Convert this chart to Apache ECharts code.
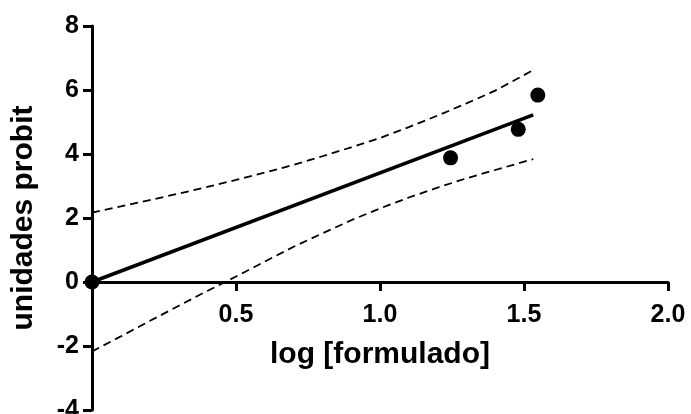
<!DOCTYPE html>
<html>
<head>
<meta charset="utf-8">
<script src="https://cdn.jsdelivr.net/npm/echarts@6/dist/echarts.min.js"></script>
<style>
html,body{margin:0;padding:0;background:#fff;}
#c{width:691px;height:414px;}
</style>
</head>
<body>
<div id="c"></div>
<script>
// observed points
var pointX = [0, 1.245, 1.48, 1.548];
var pointY = [0, 3.88, 4.77, 5.84];
// regression line end points
var fitX = [0, 1.532];
var fitY = [0, 5.22];
// confidence band
var bandX = [0, 0.1, 0.2, 0.3, 0.4, 0.5, 0.6, 0.7, 0.8, 0.9, 1.0, 1.1, 1.2, 1.3, 1.4, 1.532];
var upperY = [2.17, 2.36, 2.56, 2.76, 2.97, 3.19, 3.42, 3.66, 3.93, 4.21, 4.50, 4.84, 5.20, 5.58, 5.98, 6.62];
var lowerY = [-2.17, -1.70, -1.22, -0.75, -0.28, 0.17, 0.64, 1.10, 1.52, 1.93, 2.30, 2.64, 2.95, 3.24, 3.50, 3.84];
var xTicks = [0.5, 1.0, 1.5, 2.0];
var yMin = -4, yMax = 8;

function pairs(xs, ys){ return xs.map(function(x,i){ return [x, ys[i]]; }); }

var chart = echarts.init(document.getElementById('c'));
var font = 'Liberation Sans, Arial, sans-serif';
var gridTop = 26, gridBottom = 4, H = 414;
var plotH = H - gridTop - gridBottom;
var zeroOffset = -plotH * (0 - yMin) / (yMax - yMin);
chart.setOption({
  animation: false,
  grid: {left: 92, right: 23, top: gridTop, bottom: gridBottom, containLabel: false, outerBoundsMode: 'none'},
  xAxis: {
    type: 'value', min: 0, max: 2, interval: 0.5, position: 'bottom', offset: zeroOffset,
    axisLine: {onZero: false, lineStyle: {color: '#000', width: 3}},
    axisTick: {length: 9, lineStyle: {color: '#000', width: 3}},
    splitLine: {show: false},
    axisLabel: {
      margin: 21, color: '#000', fontWeight: 'bold', fontSize: 25, fontFamily: font,
      formatter: function(v){ return xTicks.indexOf(v) >= 0 ? v.toFixed(1) : ''; }
    },
    name: 'log [formulado]', nameLocation: 'middle', nameGap: 58,
    nameTextStyle: {color: '#000', fontWeight: 'bold', fontSize: 30, fontFamily: font}
  },
  yAxis: {
    type: 'value', min: yMin, max: yMax, interval: 2,
    axisLine: {show: true, onZero: false, lineStyle: {color: '#000', width: 3}},
    axisTick: {show: true, length: 9, lineStyle: {color: '#000', width: 3}},
    splitLine: {show: false},
    axisLabel: {margin: 13, color: '#000', fontWeight: 'bold', fontSize: 25, fontFamily: font},
    name: 'unidades probit', nameLocation: 'middle', nameGap: 53, nameRotate: 90,
    nameTextStyle: {color: '#000', fontWeight: 'bold', fontSize: 30, fontFamily: font}
  },
  series: [
    {type: 'line', data: pairs(bandX, upperY), showSymbol: false, symbol: 'none',
     lineStyle: {color: '#000', width: 1.8, type: [8, 5]}, z: 2},
    {type: 'line', data: pairs(bandX, lowerY), showSymbol: false, symbol: 'none',
     lineStyle: {color: '#000', width: 1.8, type: [8, 5]}, z: 2},
    {type: 'line', data: pairs(fitX, fitY), showSymbol: false, symbol: 'none',
     lineStyle: {color: '#000', width: 3.5}, z: 3},
    {type: 'scatter', data: pairs(pointX, pointY), symbol: 'circle', symbolSize: 15,
     itemStyle: {color: '#000', opacity: 1}, z: 4}
  ]
});
</script>
</body>
</html>
